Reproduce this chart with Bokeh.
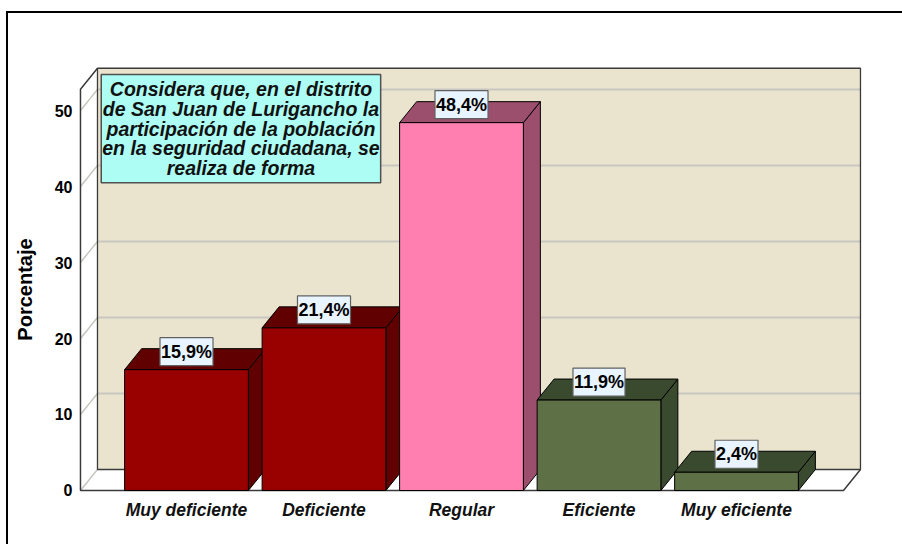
import numpy as np
from bokeh.plotting import figure
from bokeh.models import Range1d, FixedTicker, Label
from bokeh.embed import file_html
from bokeh.resources import INLINE

# ---------------- data ----------------
categories = ["Muy deficiente", "Deficiente", "Regular", "Eficiente", "Muy eficiente"]
percentages = [15.9, 21.4, 48.4, 11.9, 2.4]
value_labels = ["15,9%", "21,4%", "48,4%", "11,9%", "2,4%"]
y_ticks = [0, 10, 20, 30, 40, 50]
y_label = "Porcentaje"
note_text = ("Considera que, en el distrito\nde San Juan de Lurigancho la\n"
             "participación de la población\nen la seguridad ciudadana, se\nrealiza de forma")

# ---------------- styles ----------------
face_colors = ["#990000", "#990000", "#FF80B0", "#5E7046", "#5E7046"]
shade_colors = ["#600000", "#600000", "#9C4F6C", "#3A4A2E", "#3A4A2E"]
WALL = "#EAE4CE"
GRID = "#C8C6C0"
EDGE = "#3A3A3A"
SANS = "Liberation Sans"

# 3D geometry (data units)
BAR_W = 0.9
DX = 0.1236
DY = 2.763
X_LEFT = -0.771
X_RIGHT = 4.778
Y_TOP = 52.8

p = figure(width=896, height=544, output_backend="svg", toolbar_location=None,
           x_range=Range1d(-0.7927, 4.9236), y_range=Range1d(-2.895, 55.79),
           min_border_left=71, min_border_right=39, min_border_top=66, min_border_bottom=32)
p.title.visible = False
p.xgrid.visible = False
p.ygrid.visible = False
p.outline_line_color = None
p.background_fill_color = "white"
p.border_fill_color = None
p.styles = {"position": "absolute", "left": "6px", "top": "0px",
            "box-shadow": "inset 0 11px 0 0 #ffffff, inset 0 13px 0 0 #000000, inset 2px 0 0 0 #000000"}

# axes
p.yaxis.ticker = FixedTicker(ticks=y_ticks)
p.yaxis.axis_line_color = None
p.yaxis.major_tick_line_color = None
p.yaxis.minor_tick_line_color = None
p.yaxis.major_tick_out = 0
p.yaxis.minor_tick_out = 0
p.yaxis.major_label_standoff = 5
p.yaxis.major_label_text_font = SANS
p.yaxis.major_label_text_font_style = "bold"
p.yaxis.major_label_text_font_size = "16px"
p.yaxis.major_label_text_color = "black"
p.yaxis.axis_label = y_label
p.yaxis.axis_label_text_font = SANS
p.yaxis.axis_label_text_font_style = "bold"
p.yaxis.axis_label_text_font_size = "20px"
p.yaxis.axis_label_text_color = "black"
p.yaxis.axis_label_standoff = 16

xs_c = np.arange(len(categories))
p.xaxis.ticker = FixedTicker(ticks=list(xs_c))
p.xaxis.major_label_overrides = {int(i): c for i, c in zip(xs_c, categories)}
p.xaxis.axis_line_color = None
p.xaxis.major_tick_line_color = None
p.xaxis.minor_tick_line_color = None
p.xaxis.major_tick_out = 0
p.xaxis.minor_tick_out = 0
p.xaxis.major_label_standoff = -13
p.xaxis.major_label_text_font = SANS
p.xaxis.major_label_text_font_style = "bold italic"
p.xaxis.major_label_text_font_size = "17.5px"
p.xaxis.major_label_text_color = "#111111"

# walls and floor
p.quad(left=X_LEFT + DX, right=X_RIGHT + DX, bottom=DY, top=Y_TOP + DY,
       fill_color=WALL, line_color=None)
p.patch([X_LEFT, X_RIGHT, X_RIGHT + DX, X_LEFT + DX], [0, 0, DY, DY],
        fill_color="white", line_color=None)
p.patch([X_LEFT, X_LEFT, X_LEFT + DX, X_LEFT + DX], [0, Y_TOP, Y_TOP + DY, DY],
        fill_color="white", line_color=None)

ticks = np.array(y_ticks, dtype=float)
p.segment(x0=X_LEFT + DX, y0=ticks[1:] + DY, x1=X_RIGHT + DX, y1=ticks[1:] + DY,
          line_color=GRID, line_width=2)
p.segment(x0=X_LEFT, y0=ticks, x1=X_LEFT + DX, y1=ticks + DY,
          line_color=GRID, line_width=1.5)

# dark edges
p.quad(left=X_LEFT + DX, right=X_RIGHT + DX, bottom=DY, top=Y_TOP + DY,
       fill_color=None, line_color=EDGE, line_width=1.3)
p.line([X_LEFT + DX, X_LEFT, X_LEFT, X_RIGHT, X_RIGHT + DX],
       [Y_TOP + DY, Y_TOP, 0, 0, DY], line_color=EDGE, line_width=1.5)

# bars
vals = np.array(percentages)
lefts = xs_c - BAR_W / 2
rights = xs_c + BAR_W / 2
top_xs = [[l, l + DX, r + DX, r] for l, r in zip(lefts, rights)]
top_ys = [[v, v + DY, v + DY, v] for v in vals]
side_xs = [[r, r, r + DX, r + DX] for r in rights]
side_ys = [[0, v, v + DY, DY] for v in vals]
p.patches(side_xs, side_ys, fill_color=shade_colors, line_color="black", line_width=1)
p.patches(top_xs, top_ys, fill_color=shade_colors, line_color="black", line_width=1)
p.quad(left=lefts, right=rights, bottom=0, top=vals,
       fill_color=face_colors, line_color="black", line_width=1)

# value labels
for xc, v, t in zip(xs_c, vals, value_labels):
    p.add_layout(Label(x=float(xc), y=float(v), text=t, text_align="center",
                       text_baseline="bottom", y_offset=4, padding=(1, 4),
                       text_font=SANS, text_font_style="bold", text_font_size="18px",
                       text_color="black", background_fill_color="#E8F4FF",
                       border_line_color="#606060", border_line_width=1.2))

# note box
p.add_layout(Label(x=0.396, y=54.74, text=note_text, text_align="center",
                   text_baseline="top", padding=(1, 4), text_line_height=0.89,
                   text_font=SANS, text_font_style="bold italic", text_font_size="19.5px",
                   text_color="#111111", background_fill_color="#ADFDF5",
                   border_line_color="#505050", border_line_width=1.5))

open("out.html", "w").write(file_html(p, INLINE))
